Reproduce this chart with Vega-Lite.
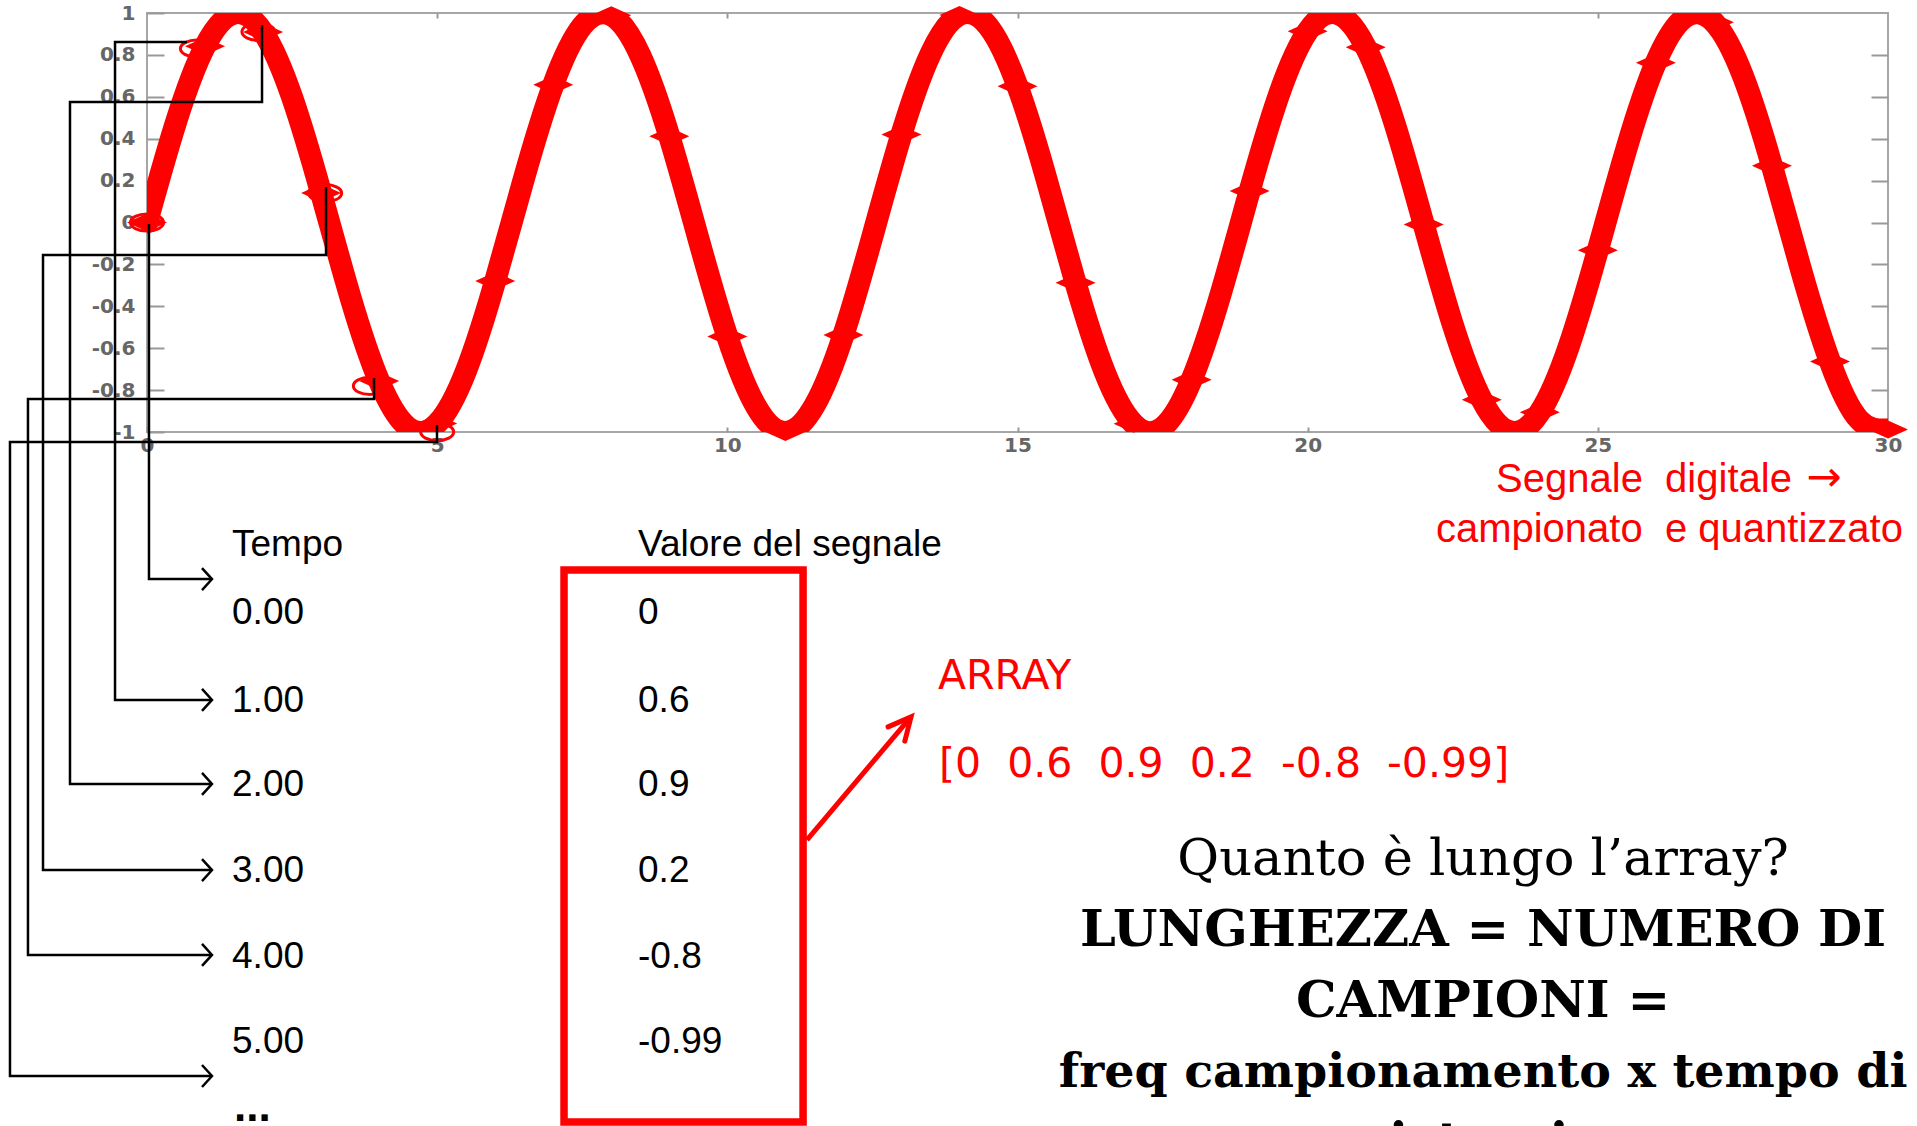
{
  "$schema": "https://vega.github.io/schema/vega-lite/v6.json",
  "width": 1741,
  "height": 419,
  "autosize": {"type": "none"},
  "padding": {"left": 147, "top": 13, "right": 29, "bottom": 694},
  "background": "white",
  "config": {"view": {"stroke": "#a6a6a6", "strokeWidth": 2}},
  "datasets": {
    "sine": [
      {"x":0,"y":0},{"x":0.5,"y":0.479},{"x":1,"y":0.841},{"x":1.5,"y":0.997},{"x":2,"y":0.909},{"x":2.5,"y":0.598},
      {"x":3,"y":0.141},{"x":3.5,"y":-0.351},{"x":4,"y":-0.757},{"x":4.5,"y":-0.978},{"x":5,"y":-0.959},{"x":5.5,"y":-0.706},
      {"x":6,"y":-0.279},{"x":6.5,"y":0.215},{"x":7,"y":0.657},{"x":7.5,"y":0.938},{"x":8,"y":0.989},{"x":8.5,"y":0.798},
      {"x":9,"y":0.412},{"x":9.5,"y":-0.075},{"x":10,"y":-0.544},{"x":10.5,"y":-0.88},{"x":11,"y":-1},{"x":11.5,"y":-0.875},
      {"x":12,"y":-0.537},{"x":12.5,"y":-0.066},{"x":13,"y":0.42},{"x":13.5,"y":0.804},{"x":14,"y":0.991},{"x":14.5,"y":0.935},
      {"x":15,"y":0.65},{"x":15.5,"y":0.207},{"x":16,"y":-0.288},{"x":16.5,"y":-0.712},{"x":17,"y":-0.961},{"x":17.5,"y":-0.978},
      {"x":18,"y":-0.751},{"x":18.5,"y":-0.342},{"x":19,"y":0.15},{"x":19.5,"y":0.606},{"x":20,"y":0.913},{"x":20.5,"y":0.997},
      {"x":21,"y":0.837},{"x":21.5,"y":0.471},{"x":22,"y":-0.009},{"x":22.5,"y":-0.487},{"x":23,"y":-0.846},{"x":23.5,"y":-0.998},
      {"x":24,"y":-0.906},{"x":24.5,"y":-0.591},{"x":25,"y":-0.132},{"x":25.5,"y":0.359},{"x":26,"y":0.763},{"x":26.5,"y":0.979},
      {"x":27,"y":0.956},{"x":27.5,"y":0.7},{"x":28,"y":0.271},{"x":28.5,"y":-0.224},{"x":29,"y":-0.664},{"x":29.5,"y":-0.941},
      {"x":30,"y":-0.988}
    ],
    "circles": [
      {"x":0,"y":0},{"x":0.86,"y":0.83},{"x":1.92,"y":0.91},{"x":3.07,"y":0.14},{"x":3.84,"y":-0.78},{"x":5.0,"y":-1.0}
    ],
    "links": [
      {"id":"A","o":1,"x":0.034,"y":-0.007},{"id":"A","o":2,"x":0.034,"y":-1.702},{"id":"A","o":3,"x":1.103,"y":-1.702},
      {"id":"B","o":1,"x":0.689,"y":0.862},{"id":"B","o":2,"x":-0.551,"y":0.862},{"id":"B","o":3,"x":-0.551,"y":-2.279},{"id":"B","o":4,"x":1.103,"y":-2.279},
      {"id":"C","o":1,"x":1.982,"y":0.943},{"id":"C","o":2,"x":1.982,"y":0.575},{"id":"C","o":3,"x":-1.327,"y":0.575},{"id":"C","o":4,"x":-1.327,"y":-2.68},{"id":"C","o":5,"x":1.103,"y":-2.68},
      {"id":"D","o":1,"x":3.085,"y":0.169},{"id":"D","o":2,"x":3.085,"y":-0.155},{"id":"D","o":3,"x":-1.792,"y":-0.155},{"id":"D","o":4,"x":-1.792,"y":-3.091},{"id":"D","o":5,"x":1.103,"y":-3.091},
      {"id":"E","o":1,"x":3.912,"y":-0.742},{"id":"E","o":2,"x":3.912,"y":-0.842},{"id":"E","o":3,"x":-2.051,"y":-0.842},{"id":"E","o":4,"x":-2.051,"y":-3.496},{"id":"E","o":5,"x":1.103,"y":-3.496},
      {"id":"F","o":1,"x":4.997,"y":-0.967},{"id":"F","o":2,"x":4.997,"y":-1.048},{"id":"F","o":3,"x":-2.361,"y":-1.048},{"id":"F","o":4,"x":-2.361,"y":-4.074},{"id":"F","o":5,"x":1.103,"y":-4.074}
    ],
    "heads": [
      {"x":1.12,"y":-1.702},{"x":1.12,"y":-2.279},{"x":1.12,"y":-2.68},{"x":1.12,"y":-3.091},{"x":1.12,"y":-3.496},{"x":1.12,"y":-4.074}
    ],
    "box": [{"x":7.186,"x2":11.305,"y":-1.659,"y2":-4.294}],
    "pointer": [{"o":1,"x":11.373,"y":-2.947},{"o":2,"x":13.131,"y":-2.37}],
    "pointerHead": [{"x":13.166,"y":-2.36}],
    "table": [
      {"x":1.465,"y":-1.592,"text":"Tempo"},
      {"x":8.461,"y":-1.592,"text":"Valore del segnale"},
      {"x":1.465,"y":-1.916,"text":"0.00"},{"x":1.465,"y":-2.337,"text":"1.00"},{"x":1.465,"y":-2.737,"text":"2.00"},
      {"x":1.465,"y":-3.148,"text":"3.00"},{"x":1.465,"y":-3.558,"text":"4.00"},{"x":1.465,"y":-3.964,"text":"5.00"},
      {"x":8.461,"y":-1.916,"text":"0"},{"x":8.461,"y":-2.337,"text":"0.6"},{"x":8.461,"y":-2.737,"text":"0.9"},
      {"x":8.461,"y":-3.148,"text":"0.2"},{"x":8.461,"y":-3.558,"text":"-0.8"},{"x":8.461,"y":-3.964,"text":"-0.99"}
    ],
    "dots": [{"x":1.5,"y":-4.289,"text":"..."}],
    "caption": [
      {"x":23.247,"y":-1.286,"text":"Segnale\u00a0 digitale"},
      {"x":22.21,"y":-1.525,"text":"campionato\u00a0 e quantizzato"}
    ],
    "captionArrow": [{"x":28.9,"y":-1.282,"text":"→"}],
    "arrayText": [
      {"x":13.631,"y":-2.227,"text":"ARRAY"},
      {"x":13.648,"y":-2.647,"text":"[0\u00a0 0.6\u00a0 0.9\u00a0 0.2\u00a0 -0.8\u00a0 -0.99]"}
    ],
    "question": [
      {"x":23.023,"y":-3.115,"text":"Quanto è lungo l’array?"}
    ],
    "answer": [
      {"x":23.023,"y":-3.453,"text":"LUNGHEZZA = NUMERO DI","size":51},
      {"x":23.023,"y":-3.792,"text":"CAMPIONI =","size":51},
      {"x":23.023,"y":-4.126,"text":"freq campionamento x tempo di","size":47.5},
      {"x":23.023,"y":-4.465,"text":"registrazione","size":51}
    ]
  },
  "encoding": {
    "x": {"field": "x", "type": "quantitative", "scale": {"domain": [0, 30], "nice": false, "zero": false}, "axis": null},
    "y": {"field": "y", "type": "quantitative", "scale": {"domain": [-1, 1], "nice": false, "zero": false}, "axis": null}
  },
  "layer": [
    {
      "data": {"name": "sine"},
      "mark": {"type": "line", "color": "#ff0000", "strokeWidth": 22, "interpolate": "natural", "clip": true, "strokeCap": "round"},
      "encoding": {
        "x": {"field": "x", "type": "quantitative", "scale": {"domain": [0, 30], "nice": false, "zero": false},
          "axis": {"orient": "bottom", "values": [0, 5, 10, 15, 20, 25, 30], "domain": false, "grid": false, "title": null,
            "tickSize": -5, "tickWidth": 2, "tickColor": "#999999", "labelPadding": 8, "labelFlush": false,
            "labelFont": "DejaVu Sans", "labelFontWeight": "bold", "labelFontSize": 20, "labelColor": "#666666"}},
        "y": {"field": "y", "type": "quantitative", "scale": {"domain": [-1, 1], "nice": false, "zero": false},
          "axis": {"orient": "left", "values": [-1, -0.8, -0.6, -0.4, -0.2, 0, 0.2, 0.4, 0.6, 0.8, 1], "domain": false, "grid": false, "title": null,
            "labelExpr": "replace(format(datum.value, '~g'), '\u2212', '-')",
            "tickSize": -17, "tickWidth": 2, "tickColor": "#999999", "labelPadding": 29, "labelFlush": false,
            "labelFont": "DejaVu Sans", "labelFontWeight": "bold", "labelFontSize": 20, "labelColor": "#666666"}}
      }
    },
    {
      "data": {"name": "sine"},
      "mark": {"type": "point", "shape": "M-1,0L0,-0.45L1,0L0,0.45Z", "size": 1600, "filled": true, "color": "#ff0000", "opacity": 1},
      "encoding": {
        "x": {"field": "x", "type": "quantitative", "scale": {"domain": [0, 30], "nice": false, "zero": false},
          "axis": {"orient": "top", "values": [5, 10, 15, 20, 25], "labels": false, "domain": false, "grid": false, "title": null,
            "tickSize": -5, "tickWidth": 2, "tickColor": "#999999"}},
        "y": {"field": "y", "type": "quantitative", "scale": {"domain": [-1, 1], "nice": false, "zero": false},
          "axis": {"orient": "right", "values": [-0.8, -0.6, -0.4, -0.2, 0, 0.2, 0.4, 0.6, 0.8], "labels": false, "domain": false, "grid": false, "title": null,
            "tickSize": -17, "tickWidth": 2, "tickColor": "#999999"}}
      },
      "transform": [{"filter": "datum.x % 1 == 0"}]
    },
    {
      "data": {"name": "circles"},
      "mark": {"type": "point", "shape": "M-1,0A1,0.52 0 1,1 1,0A1,0.52 0 1,1 -1,0Z", "size": 1089, "filled": false, "color": "#ff0000", "strokeWidth": 3, "opacity": 1}
    },
    {
      "data": {"name": "links"},
      "mark": {"type": "line", "color": "#000000", "strokeWidth": 2.5, "strokeJoin": "miter", "strokeCap": "butt"},
      "encoding": {"detail": {"field": "id"}, "order": {"field": "o", "type": "quantitative"}}
    },
    {
      "data": {"name": "heads"},
      "mark": {"type": "point", "shape": "M-1,-1.1L0,0L-1,1.1", "size": 400, "filled": false, "color": "#000000", "strokeWidth": 2.5, "opacity": 1}
    },
    {
      "data": {"name": "box"},
      "mark": {"type": "rect", "filled": false, "color": "#ff0000", "strokeWidth": 7.5},
      "encoding": {"x2": {"field": "x2"}, "y2": {"field": "y2"}}
    },
    {
      "data": {"name": "pointer"},
      "mark": {"type": "line", "color": "#ff0000", "strokeWidth": 5},
      "encoding": {"order": {"field": "o", "type": "quantitative"}}
    },
    {
      "data": {"name": "pointerHead"},
      "mark": {"type": "point", "shape": "M-0.44,0.9L0,0L0.44,0.9", "size": 2500, "angle": 40.5, "filled": false, "color": "#ff0000", "strokeWidth": 5, "strokeCap": "round", "opacity": 1}
    },
    {
      "data": {"name": "table"},
      "mark": {"type": "text", "font": "Liberation Sans", "fontSize": 37, "align": "left", "baseline": "alphabetic", "color": "#000000"},
      "encoding": {"text": {"field": "text"}}
    },
    {
      "data": {"name": "dots"},
      "mark": {"type": "text", "font": "Liberation Sans", "fontSize": 44, "fontWeight": "bold", "align": "left", "baseline": "alphabetic", "color": "#000000"},
      "encoding": {"text": {"field": "text"}}
    },
    {
      "data": {"name": "caption"},
      "mark": {"type": "text", "font": "Liberation Sans", "fontSize": 40, "align": "left", "baseline": "alphabetic", "color": "#ff0000"},
      "encoding": {"text": {"field": "text"}}
    },
    {
      "data": {"name": "captionArrow"},
      "mark": {"type": "text", "font": "DejaVu Sans", "fontSize": 42, "align": "center", "baseline": "alphabetic", "color": "#ff0000"},
      "encoding": {"text": {"field": "text"}}
    },
    {
      "data": {"name": "arrayText"},
      "mark": {"type": "text", "font": "DejaVu Sans", "fontSize": 41, "align": "left", "baseline": "alphabetic", "color": "#ff0000"},
      "encoding": {"text": {"field": "text"}}
    },
    {
      "data": {"name": "question"},
      "mark": {"type": "text", "font": "DejaVu Serif", "fontSize": 51, "align": "center", "baseline": "alphabetic", "color": "#000000"},
      "encoding": {"text": {"field": "text"}}
    },
    {
      "data": {"name": "answer"},
      "mark": {"type": "text", "font": "DejaVu Serif", "fontWeight": "bold", "align": "center", "baseline": "alphabetic", "color": "#000000"},
      "encoding": {"text": {"field": "text"}, "size": {"field": "size", "type": "quantitative", "scale": null}}
    }
  ],
  "resolve": {"axis": {"x": "independent", "y": "independent"}}
}
